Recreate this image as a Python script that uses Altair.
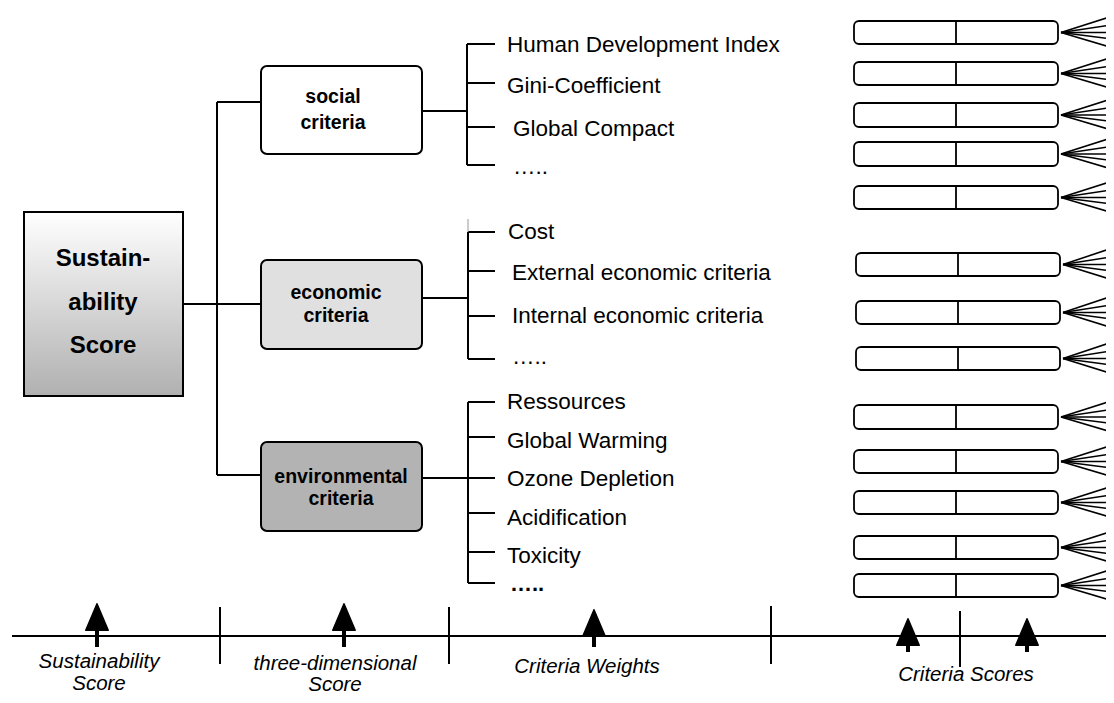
import altair as alt
import pandas as pd

# ---------------- data (pixel layout of the diagram) ----------------
W, H = 1098, 687
X0, Y0 = 8, 8

# central score box
main_box = dict(x=24, x2=183, y=212, y2=396)
main_lines = ["Sustain-", "ability", "Score"]
main_line_y = [259, 303, 346]

# dimension boxes
dim_fill = ["#ffffff", "#e0e0e0", "#b3b3b3"]
dim_top = [66, 260, 442]
dim_bottom = [154, 349, 531]
dim_left_conn_y = [102, 304, 475]
dim_right_conn_y = [111, 298, 478]
dim_text1 = ["social", "economic", "environmental"]
dim_text2 = ["criteria", "criteria", "criteria"]
dim_text_x = [333, 336, 341]
dim_text1_y = [97, 293, 477]
dim_text2_y = [123, 316, 499]

# criteria lists
soc_items = ["Human Development Index", "Gini-Coefficient", "Global Compact", "….."]
soc_item_x = [507, 507, 513, 513]
soc_item_y = [45, 86, 129, 167]
soc_branch_y = [44, 83, 127, 165]

eco_items = ["Cost", "External economic criteria", "Internal economic criteria", "….."]
eco_item_x = [508, 512, 512, 512]
eco_item_y = [232, 273, 316, 357]
eco_branch_y = [232, 271, 316, 359]

env_items = ["Ressources", "Global Warming", "Ozone Depletion", "Acidification", "Toxicity"]
env_item_x = [507, 507, 507, 507, 507]
env_item_y = [402, 441, 479, 518, 556]
env_branch_y = [402, 437, 478, 513, 552, 583]
env_last = "….."
env_last_xy = (510, 584)

# criteria score boxes (top, bottom, left)
score_top = [21, 62, 103, 142, 186, 253, 301, 347, 405, 450, 491, 536, 574]
score_bottom = [44, 85, 127, 166, 209, 276, 324, 370, 429, 473, 514, 559, 597]
score_left = [854, 854, 854, 854, 854, 856, 856, 856, 854, 854, 854, 854, 854]
score_width = 204
fan_offsets = [-15, -7, 0, 6, 14]

# bottom axis
axis_y = 636
axis_ticks_x = [220, 449, 771, 960]
axis_ticks_top = [607, 607, 606, 611]
axis_ticks_bottom = [664, 664, 664, 667]
arrow_x = [97, 344, 594, 908, 1027]
arrow_head_y = [617, 617, 623, 632, 632]
arrow_tail_y = [647, 647, 647, 652, 652]

axis_labels = ["Sustainability", "Score", "three-dimensional", "Score", "Criteria Weights", "Criteria Scores"]
axis_label_x = [99, 99, 335, 335, 587, 966]
axis_label_y = [662, 684, 664, 685, 667, 675]

# ---------------- build tables ----------------
xs = alt.Scale(domain=[X0, X0 + W], nice=False, zero=False)
ys = alt.Scale(domain=[Y0, Y0 + H], nice=False, zero=False, reverse=True)


def X(f="x"):
    return alt.X(f"{f}:Q", scale=xs, axis=None)


def Y(f="y"):
    return alt.Y(f"{f}:Q", scale=ys, axis=None)


under, over = [], []


def seg(x1, y1, x2, y2, w=2.0, c="#000000", top=False):
    (over if top else under).append(dict(x=x1, y=y1, x2=x2, y2=y2, w=w, c=c))


# main trunk
seg(217, dim_left_conn_y[0], 217, dim_left_conn_y[2])
seg(main_box["x2"], dim_left_conn_y[1], 261, dim_left_conn_y[1])
seg(217, dim_left_conn_y[0], 261, dim_left_conn_y[0])
seg(217, dim_left_conn_y[2], 261, dim_left_conn_y[2])

# brackets
for conn_y, branches, vx in [
    (dim_right_conn_y[0], soc_branch_y, 467),
    (dim_right_conn_y[1], eco_branch_y, 468),
    (dim_right_conn_y[2], env_branch_y, 468),
]:
    seg(422, conn_y, vx, conn_y)
    seg(vx, branches[0], vx, branches[-1])
    for by in branches:
        seg(vx, by, 495, by)
seg(468, 219, 468, 232, 1.0, "#999999")

# score boxes dividers and fans
for t, b, l in zip(score_top, score_bottom, score_left):
    seg(l + 102, t, l + 102, b, 1.8, top=True)
    yc = (t + b) / 2
    for o in fan_offsets:
        seg(l + score_width + 3, yc, 1108, yc + o, 1.6, top=True)

# bottom axis
seg(12, axis_y, 1114, axis_y, 2.0)
for tx, t0, t1 in zip(axis_ticks_x, axis_ticks_top, axis_ticks_bottom):
    seg(tx, t0, tx, t1, 2.0)
for ax, hy, ty in zip(arrow_x, arrow_head_y, arrow_tail_y):
    seg(ax, hy, ax, ty, 4.0)


def rule_layer(rows):
    return alt.Chart(pd.DataFrame(rows)).mark_rule(strokeCap="butt").encode(
        x=X("x"), y=Y("y"), x2="x2:Q", y2="y2:Q",
        strokeWidth=alt.StrokeWidth("w:Q", scale=None),
        color=alt.Color("c:N", scale=None),
    )


rules_under = rule_layer(under)
rules_over = rule_layer(over)

# boxes
dim_df = pd.DataFrame(dict(x=[261] * 3, x2=[422] * 3, y=dim_top, y2=dim_bottom, fill=dim_fill))
dim_rects = alt.Chart(dim_df).mark_rect(cornerRadius=6, stroke="black", strokeWidth=2).encode(
    x=X("x"), x2="x2:Q", y=Y("y"), y2="y2:Q", fill=alt.Fill("fill:N", scale=None)
)

main_df = pd.DataFrame([main_box])
main_rect = alt.Chart(main_df).mark_rect(
    stroke="black", strokeWidth=2,
    fill=alt.Gradient(gradient="linear", x1=0, y1=0, x2=0, y2=1,
                      stops=[alt.GradientStop(offset=0, color="#ffffff"),
                             alt.GradientStop(offset=1, color="#b0b0b0")]),
).encode(x=X("x"), x2="x2:Q", y=Y("y"), y2="y2:Q")

score_df = pd.DataFrame(dict(x=score_left, x2=[l + score_width for l in score_left],
                             y=score_top, y2=score_bottom))
score_rects = alt.Chart(score_df).mark_rect(
    cornerRadius=5, stroke="black", strokeWidth=1.8, fill="white"
).encode(x=X("x"), x2="x2:Q", y=Y("y"), y2="y2:Q")

# texts
main_txt = alt.Chart(pd.DataFrame(dict(t=main_lines, x=[103] * 3, y=main_line_y))).mark_text(
    font="Liberation Sans", fontWeight="bold", fontSize=24, align="center", baseline="middle", color="black"
).encode(x=X("x"), y=Y("y"), text="t:N")

dim_txt_df = pd.DataFrame(dict(
    t=dim_text1 + dim_text2, x=dim_text_x + dim_text_x, y=dim_text1_y + dim_text2_y))
dim_txt = alt.Chart(dim_txt_df).mark_text(
    font="Liberation Sans", fontWeight="bold", fontSize=19.5, align="center", baseline="middle", color="black"
).encode(x=X("x"), y=Y("y"), text="t:N")

items_df = pd.DataFrame(dict(
    t=soc_items + eco_items + env_items,
    x=soc_item_x + eco_item_x + env_item_x,
    y=soc_item_y + eco_item_y + env_item_y))
items_txt = alt.Chart(items_df).mark_text(
    font="Liberation Sans", fontSize=22.5, align="left", baseline="middle", color="black"
).encode(x=X("x"), y=Y("y"), text="t:N")

last_txt = alt.Chart(pd.DataFrame(dict(t=[env_last], x=[env_last_xy[0]], y=[env_last_xy[1]]))).mark_text(
    font="Liberation Sans", fontWeight="bold", fontSize=22, align="left", baseline="middle", color="black"
).encode(x=X("x"), y=Y("y"), text="t:N")

axis_txt = alt.Chart(pd.DataFrame(dict(t=axis_labels, x=axis_label_x, y=axis_label_y))).mark_text(
    font="Liberation Sans", fontStyle="italic", fontSize=20.5, align="center", baseline="middle", color="black"
).encode(x=X("x"), y=Y("y"), text="t:N")

heads = alt.Chart(pd.DataFrame(dict(x=arrow_x, y=arrow_head_y))).mark_point(
    shape="M0,-1L-0.85,1L0.85,1Z", filled=True, size=700, color="black", opacity=1,
    stroke="black", strokeWidth=1.5, strokeJoin="round",
).encode(x=X("x"), y=Y("y"))

chart = alt.layer(
    rules_under, main_rect, dim_rects, score_rects, rules_over,
    main_txt, dim_txt, items_txt, last_txt, axis_txt, heads,
).properties(
    width=W, height=H, padding=0, autosize=alt.AutoSizeParams(type="none"), background="white"
).configure_view(stroke=None)

chart.save("out.html", embed_options={"renderer": "svg", "actions": False})
